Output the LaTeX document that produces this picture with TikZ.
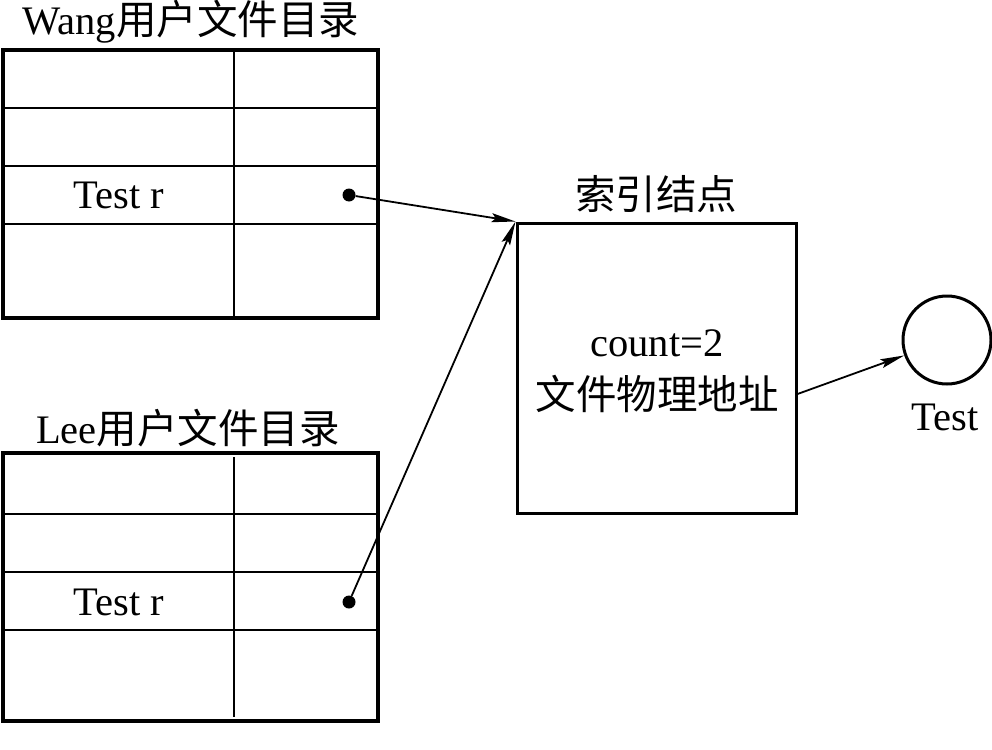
\documentclass[tikz,border=0pt]{standalone}
\usepackage{fontspec}
\setmainfont{Liberation Serif}
\newfontfamily\cjk{Noto Sans CJK SC}
\usetikzlibrary{arrows.meta}
\begin{document}
\begin{tikzpicture}[x=1pt,y=-1pt,
  txt/.style={font=\fontsize{40.5}{44}\selectfont, inner sep=0pt},
  outer/.style={draw, line width=3.2pt, inner sep=0pt, minimum width=375pt, minimum height=268pt},
  grid/.style={line width=2pt},
  dotnode/.style={circle, fill, inner sep=0pt, minimum size=13pt},
  conn/.style={line width=1.8pt, -{Stealth[length=24pt,width=9pt,inset=4pt]}},
  ibox/.style={draw, line width=3pt, inner sep=0pt, minimum width=279pt, minimum height=290pt},
  fcircle/.style={draw, circle, line width=3pt, inner sep=0pt, minimum size=88pt}]
\useasboundingbox (0,0) rectangle (992,749);
% Wang directory
\node[txt] (wtitle) at (191,22) {Wang{\cjk 用户文件目录}};
\node[outer] (wtab) at (190.5,184) {};
\draw[grid] (234,50) -- (234,318);
\draw[grid] (3,108) -- (378,108);
\draw[grid] (3,166) -- (378,166);
\draw[grid] (3,224) -- (378,224);
\node[txt] (wtest) at (119,195) {Test r};
\node[dotnode] (wdot) at (349,195) {};
% Lee directory
\node[txt] (ltitle) at (188,428) {Lee{\cjk 用户文件目录}};
\node[outer] (ltab) at (190.5,587) {};
\draw[grid] (234,457) -- (234,717);
\draw[grid] (3,514) -- (378,514);
\draw[grid] (3,572) -- (378,572);
\draw[grid] (3,630) -- (378,630);
\node[txt] (ltest) at (119,602) {Test r};
\node[dotnode] (ldot) at (349,602) {};
% index node
\node[txt] (ititle) at (656,194) {\cjk 索引结点};
\node[ibox] (idx) at (656.5,368) {};
\node[txt] (cnt) at (657,343) {count=2};
\node[txt] (addr) at (657,394) {\cjk 文件物理地址};
% file
\node[fcircle] (file) at (947,340) {};
\node[txt] (ftest) at (945,417) {Test};
% connectors
\draw[conn] (wdot) -- (idx.north west);
\draw[conn] (ldot) -- (idx.north west);
\coordinate (iout) at (idx.east |- addr);
\draw[conn] (iout) -- (file);
\end{tikzpicture}
\end{document}
